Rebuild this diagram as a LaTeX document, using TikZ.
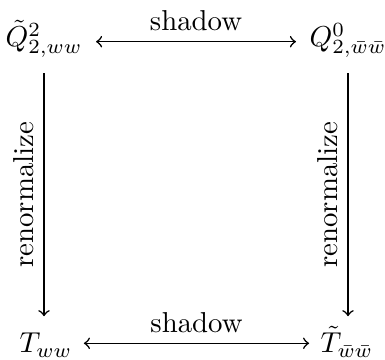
\documentclass[tikz,border=0pt]{standalone}
\usepackage{amsmath}
\begin{document}
\begin{tikzpicture}[x=0.3472pt,y=-0.3472pt,
  objtop/.style={text height=2.2ex, text depth=6pt, inner ysep=3pt, inner xsep=4.5pt},
  objbot/.style={text height=2.2ex, text depth=2.9pt, inner ysep=3pt, inner xsep=3.8pt},
  lab/.style={midway, inner sep=3.33pt},
  arr/.style={line width=0.55pt}]
\useasboundingbox (0,0) rectangle (385,360);
\node[objtop] (A) at (44,41.7) {$\tilde{Q}^2_{2,ww}$};
\node[objtop] (B) at (348,41.7) {$Q^0_{2,\bar{w}\bar{w}}$};
\node[objbot] (C) at (46,343.3) {$T_{ww}$};
\node[objbot] (D) at (347,343.3) {$\tilde{T}_{\bar{w}\bar{w}}$};
\draw[arr,<->] (A) -- node[lab,above] {shadow} (B);
\draw[arr,<->] (C) -- node[lab,above] {shadow} (D);
\draw[arr,->] (A.south) -- node[lab,rotate=90,anchor=south] {renormalize} (A.south |- C.north);
\draw[arr,->] (B.south) -- node[lab,rotate=90,anchor=south] {renormalize} (B.south |- D.north);
\end{tikzpicture}
\end{document}
